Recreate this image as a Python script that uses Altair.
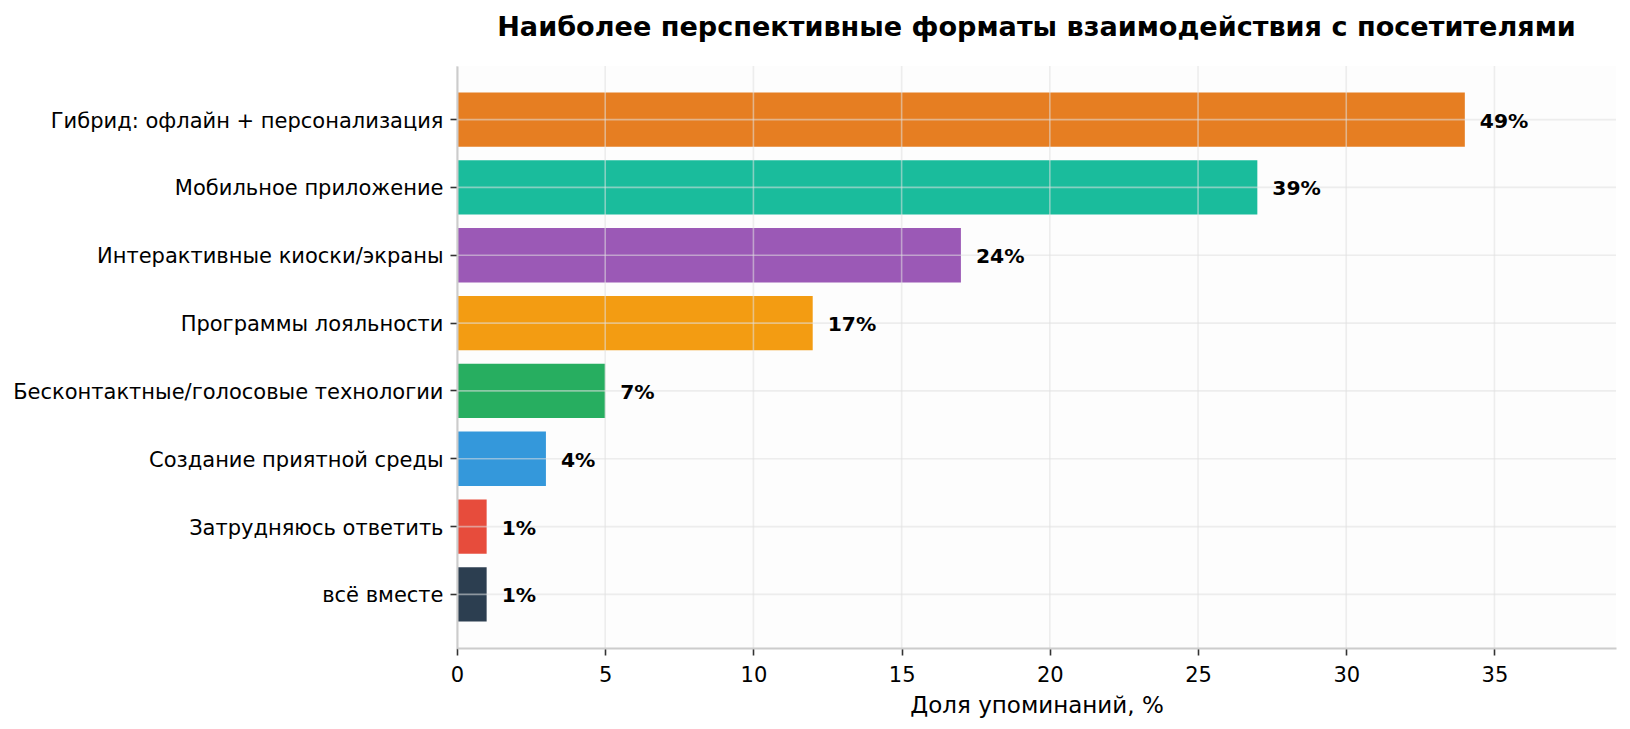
import altair as alt
import pandas as pd

categories = [
    "Гибрид: офлайн + персонализация",
    "Мобильное приложение",
    "Интерактивные киоски/экраны",
    "Программы лояльности",
    "Бесконтактные/голосовые технологии",
    "Создание приятной среды",
    "Затрудняюсь ответить",
    "всё вместе",
]
counts = [34, 27, 17, 12, 5, 3, 1, 1]
pct_labels = ["49%", "39%", "24%", "17%", "7%", "4%", "1%", "1%"]
colors = ["#e67e22", "#1abc9c", "#9b59b6", "#f39c12", "#27ae60", "#3498db", "#e74c3c", "#2c3e50"]
x_ticks = [0, 5, 10, 15, 20, 25, 30, 35]

df = pd.DataFrame({"cat": categories, "val": counts, "lab": pct_labels, "col": colors})
df_xgrid = pd.DataFrame({"t": x_ticks})
df_ygrid = pd.DataFrame({"cat": categories})

FONT = "DejaVu Sans"
GRID_COLOR = "#e0e0e0"
GRID_OPACITY = 0.55
GRID_W = 1.6

y_scale = alt.Scale(domain=categories, paddingInner=0.2, paddingOuter=0.39)
x_scale = alt.Scale(domain=[0, 39.1], nice=False, zero=True)

y_enc = alt.Y(
    "cat:N",
    sort=categories,
    title=None,
    scale=y_scale,
    axis=alt.Axis(
        bandPosition=0.5,
        labelFontSize=21,
        labelColor="#000000",
        labelPadding=7,
        labelOffset=2,
        tickSize=7,
        tickWidth=1.6,
        tickColor="#333333",
        domainColor="#cccccc",
        domainWidth=2,
        grid=False,
        labelLimit=600,
        zindex=1,
    ),
)

x_enc = alt.X(
    "val:Q",
    title="Доля упоминаний, %",
    scale=x_scale,
    axis=alt.Axis(
        values=x_ticks,
        labelFontSize=21,
        labelColor="#000000",
        labelPadding=9,
        labelFlush=False,
        tickSize=7,
        tickWidth=1.6,
        tickColor="#333333",
        domainColor="#cccccc",
        domainWidth=2,
        grid=False,
        titleFontSize=23,
        titleFontWeight="normal",
        titleColor="#000000",
        titlePadding=9,
        zindex=1,
    ),
)

bars = alt.Chart(df).mark_bar().encode(
    x=x_enc,
    y=y_enc,
    color=alt.Color("col:N", scale=None, legend=None),
)

xgrid = alt.Chart(df_xgrid).mark_rule(
    color=GRID_COLOR, opacity=GRID_OPACITY, strokeWidth=GRID_W
).encode(x=alt.X("t:Q", scale=x_scale))

ygrid = alt.Chart(df_ygrid).mark_rule(
    color=GRID_COLOR, opacity=GRID_OPACITY, strokeWidth=GRID_W
).encode(y=alt.Y("cat:N", sort=categories, scale=y_scale, bandPosition=0.5))

texts = alt.Chart(df).mark_text(
    align="left", baseline="middle", dx=15, dy=2, fontSize=20.3, fontWeight="bold", color="#000000", font=FONT
).encode(
    x=alt.X("val:Q", scale=x_scale),
    y=alt.Y("cat:N", sort=categories, scale=y_scale),
    text="lab:N",
)

chart = (
    alt.layer(bars, xgrid, ygrid, texts)
    .properties(
        width=1159,
        height=582,
        title=alt.TitleParams(
            "Наиболее перспективные форматы взаимодействия с посетителями",
            fontSize=27.1,
            fontWeight="bold",
            color="#000000",
            anchor="middle",
            frame="group",
            offset=23,
            font=FONT,
        ),
        autosize=alt.AutoSizeParams(type="none"),
        padding={"left": 457, "top": 66, "right": 14, "bottom": 81},
        background="#ffffff",
    )
    .configure(font=FONT)
    .configure_view(fill="#fdfdfd", stroke=None)
    .configure_axis(labelFont=FONT, titleFont=FONT)
)

chart.save("out.html", embed_options={"renderer": "svg", "actions": False})
